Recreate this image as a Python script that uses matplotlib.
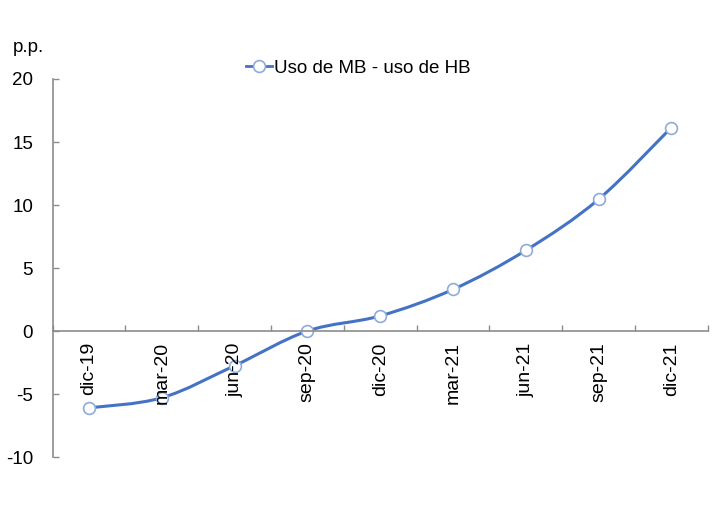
import numpy as np
import matplotlib.pyplot as plt
from matplotlib.path import Path
from matplotlib.patches import PathPatch
from matplotlib.lines import Line2D

plt.rcParams['font.family'] = ['Liberation Sans', 'DejaVu Sans']
plt.rcParams['axes.unicode_minus'] = False

periods = ["dic-19", "mar-20", "jun-20", "sep-20", "dic-20",
           "mar-21", "jun-21", "sep-21", "dic-21"]
diff_mb_hb = [-6.1, -5.3, -2.75, 0.0, 1.2, 3.3, 6.4, 10.45, 16.15]
series_name = "Uso de MB - uso de HB"

blue = "#4472C4"
grey = "#8c8c8c"

fig = plt.figure(figsize=(7.2, 5.16), dpi=100)
ax = fig.add_axes([0.073, 0.1143, 0.910, 0.7326])

x = np.arange(len(periods), dtype=float)
y = np.array(diff_mb_hb, dtype=float)

# excel-style smoothed line (catmull-rom -> cubic bezier)
verts = [(x[0], y[0])]
codes = [Path.MOVETO]
n = len(x)
for i in range(n - 1):
    p0 = np.array([x[max(i - 1, 0)], y[max(i - 1, 0)]])
    p1 = np.array([x[i], y[i]])
    p2 = np.array([x[i + 1], y[i + 1]])
    p3 = np.array([x[min(i + 2, n - 1)], y[min(i + 2, n - 1)]])
    c1 = p1 + (p2 - p0) / 6
    c2 = p2 - (p3 - p1) / 6
    verts += [tuple(c1), tuple(c2), tuple(p2)]
    codes += [Path.CURVE4] * 3
ax.add_patch(PathPatch(Path(verts, codes), facecolor="none",
                       edgecolor=blue, lw=2.2, zorder=2))
ax.plot(x, y, ls="none", marker="o", ms=8.5, mfc="white",
        mec="#8faadc", mew=1.2, zorder=2.1)

ax.set_xlim(-0.5, n - 0.5)
ax.set_ylim(-10, 20)
ax.set_yticks(np.arange(-10, 21, 5))
ax.tick_params(axis="y", direction="in", length=4.5, width=1,
               color=grey, labelsize=13.5, pad=14)

ax.set_xticks(np.arange(-0.5, n, 1.0))
ax.set_xticklabels([])
ax.set_xticks(x, minor=True)
ax.set_xticklabels(periods, minor=True)
ax.tick_params(axis="x", which="major", direction="in", length=4.5,
               width=1, color=grey)
ax.tick_params(axis="x", which="minor", length=0, labelsize=14, pad=8,
               labelrotation=90)

for s in ["top", "right"]:
    ax.spines[s].set_visible(False)
ax.spines["bottom"].set_position(("data", 0))
ax.spines["bottom"].set_color(grey)
ax.spines["left"].set_color(grey)
ax.spines["bottom"].set_linewidth(1.2)
ax.spines["left"].set_linewidth(1.2)
ax.set_axisbelow(False)

fig.text(13 / 720, 1 - 48 / 516, "p.p.", fontsize=13.5, va="center")

handle = Line2D([], [], color=blue, lw=2, marker="o", ms=8.5,
                mfc="white", mec="#8faadc", mew=1.2)
fig.legend([handle], [series_name], loc="center",
           bbox_to_anchor=(358 / 720, 1 - 68 / 516), frameon=False,
           fontsize=13.5, handlelength=1.4, handletextpad=0.1)

fig.savefig("out.png", dpi=100)
